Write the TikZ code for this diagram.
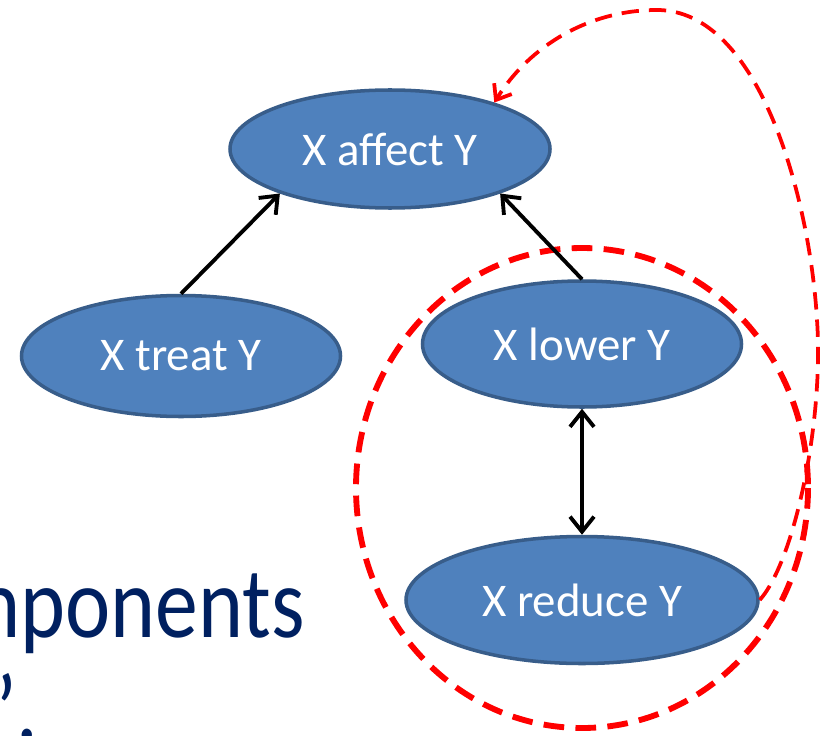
\documentclass[tikz,border=0pt]{standalone}
\usepackage{fontspec}
\setmainfont{Carlito}
\usetikzlibrary{shapes.geometric,arrows.meta}

\definecolor{nodefill}{HTML}{4F81BD}
\definecolor{nodeline}{HTML}{385D8A}
\definecolor{navytext}{HTML}{002060}
\definecolor{dashred}{HTML}{FF0000}

\tikzset{
  concept/.style={ellipse, draw=nodeline, fill=nodefill, line width=3pt,
    inner sep=0pt, text=white, font=\fontsize{40}{40}\selectfont},
  barb/.tip={Straight Barb[length=0.45cm,width=0.72cm]},
  link/.style={line width=3.3pt, draw=black, -barb},
  bothlink/.style={line width=3.3pt, draw=black, barb-barb},
  groupring/.style={draw=dashred, line width=5pt, dash pattern=on 0.62cm off 0.34cm},
  loopback/.style={draw=dashred, line width=3.2pt, dash pattern=on 0.52cm off 0.3cm,
    -{Straight Barb[length=0.4cm,width=0.62cm]}},
  bigtext/.style={text=navytext, font=\fontsize{86}{86}\selectfont, inner sep=0pt}
}

\begin{document}
\begin{tikzpicture}[x=0.03cm, y=-0.03cm]
  \useasboundingbox (0,0) rectangle (825,735);
  \clip (0,0) rectangle (825,735);

  % slide body text, partly off the left edge
  \node[bigtext, anchor=base east] (line1) at (305,637) {\scalebox{0.85}[1]{Components}};
  \node[bigtext, anchor=base east] (line2) at (18,744) {\scalebox{0.85}[1]{”}};
  \node[bigtext, anchor=base west] (line3) at (16,740) {\scalebox{0.85}[1]{.}};

  % the grouping ring around the two near-synonyms
  \draw[groupring] (582,488) ellipse [x radius=226, y radius=240];

  % concept nodes
  \node[concept, minimum width=320*0.03cm, minimum height=118*0.03cm] (affect) at (390,149) {X affect Y};
  \node[concept, minimum width=319*0.03cm, minimum height=121*0.03cm] (treat)  at (181,356) {X treat Y};
  \node[concept, minimum width=319*0.03cm, minimum height=126*0.03cm] (lower)  at (582,344) {X lower Y};
  \node[concept, minimum width=352*0.03cm, minimum height=127*0.03cm] (reduce) at (582,600) {X reduce Y};

  % relations
  \draw[link] (treat.north) -- (affect.202);
  \draw[link] (lower.north) -- (affect.338);
  \draw[bothlink] (lower.south) -- (reduce.north);

  % the loop from the group back up to the general relation
  \draw[loopback] (reduce.east)
    .. controls (795,560) and (824,420) .. (817,320)
    .. controls (810,200) and (760,10) .. (657,10)
    .. controls (590,10) and (530,45) .. (affect.24);
\end{tikzpicture}
\end{document}
